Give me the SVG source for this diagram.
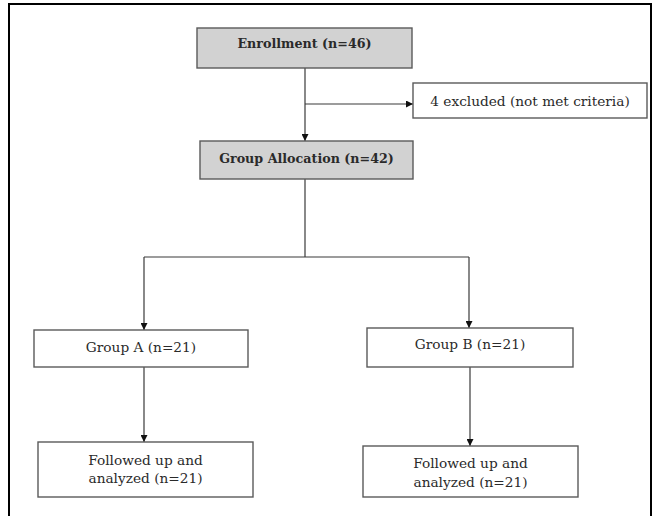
<svg xmlns="http://www.w3.org/2000/svg" width="660" height="516" viewBox="0 0 660 516">
<style>
text{font-family:"DejaVu Serif","Liberation Serif",serif;font-size:13.7px;fill:#2a2a2a;text-anchor:middle}
.b{font-weight:bold;font-size:12.7px}
.gray{fill:#d2d2d2;stroke:#5a5a5a;stroke-width:1.4}
.box{fill:#fff;stroke:#5a5a5a;stroke-width:1.4}
.ln{stroke:#3a3a3a;stroke-width:1.2;fill:none}
</style>
<defs>
<marker id="ah" viewBox="0 0 10 10" refX="10" refY="5" markerWidth="7" markerHeight="7" markerUnits="userSpaceOnUse" orient="auto"><path d="M0,0L10,5L0,10z" fill="#111"/></marker>
</defs>
<rect x="0" y="0" width="660" height="516" fill="#fff"/>
<rect x="9" y="4" width="642" height="520" fill="none" stroke="#000" stroke-width="2"/>
<g id="connectors">
<path class="ln" d="M305,68V141" marker-end="url(#ah)"/>
<path class="ln" d="M305,104H413" marker-end="url(#ah)"/>
<path class="ln" d="M305,179V257"/>
<path class="ln" d="M144,257H469"/>
<path class="ln" d="M144,257V330" marker-end="url(#ah)"/>
<path class="ln" d="M469,257V328" marker-end="url(#ah)"/>
<path class="ln" d="M144,367V442" marker-end="url(#ah)"/>
<path class="ln" d="M470,367V446" marker-end="url(#ah)"/>
</g>
<g id="enrollment"><rect class="gray" x="197" y="28" width="215" height="40"/><text class="b" x="304.5" y="47.5">Enrollment (n=46)</text></g>
<g id="excluded"><rect class="box" x="413" y="83" width="234" height="35"/><text x="530" y="105.5">4 excluded (not met criteria)</text></g>
<g id="allocation"><rect class="gray" x="200" y="141" width="213" height="38"/><text class="b" x="306.5" y="162.5">Group Allocation (n=42)</text></g>
<g id="groupA"><rect class="box" x="34" y="330" width="214" height="37"/><text x="141" y="351.5">Group A (n=21)</text></g>
<g id="groupB"><rect class="box" x="367" y="328" width="206" height="39"/><text x="470" y="348.5">Group B (n=21)</text></g>
<g id="followA"><rect class="box" x="38" y="442" width="215" height="55"/><text x="145.5" y="464.5">Followed up and</text><text x="145.5" y="482.5">analyzed (n=21)</text></g>
<g id="followB"><rect class="box" x="363" y="446" width="215" height="51"/><text x="470.5" y="467.5">Followed up and</text><text x="470.5" y="486.5">analyzed (n=21)</text></g>
</svg>
